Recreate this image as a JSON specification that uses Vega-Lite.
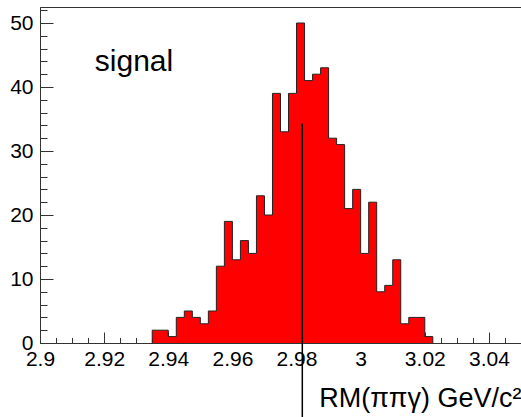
{
  "$schema": "https://vega.github.io/schema/vega-lite/v6.json",
  "width": 481,
  "height": 336,
  "autosize": {"type": "none"},
  "padding": {"left": 40, "top": 7, "right": 0, "bottom": 74},
  "background": "white",
  "config": {
    "view": {"stroke": "#333", "strokeWidth": 1},
    "font": "Liberation Sans",
    "axis": {
      "grid": false,
      "domainColor": "#333",
      "tickColor": "#333",
      "labelColor": "black",
      "labelFont": "Liberation Sans",
      "labelFontSize": 21,
      "labelFlush": false,
      "labelOverlap": false,
      "titleFont": "Liberation Sans",
      "titleFontWeight": "normal",
      "titleColor": "black"
    }
  },
  "datasets": {
    "hist": [
      {"start": 2.935, "count": 0},
      {"start": 2.935, "count": 2},
      {"start": 2.9375, "count": 2},
      {"start": 2.94, "count": 1},
      {"start": 2.9425, "count": 4},
      {"start": 2.945, "count": 5},
      {"start": 2.9475, "count": 4},
      {"start": 2.95, "count": 3},
      {"start": 2.9525, "count": 5},
      {"start": 2.955, "count": 12},
      {"start": 2.9575, "count": 19},
      {"start": 2.96, "count": 13},
      {"start": 2.9625, "count": 16},
      {"start": 2.965, "count": 14},
      {"start": 2.9675, "count": 23},
      {"start": 2.97, "count": 20},
      {"start": 2.9725, "count": 39},
      {"start": 2.975, "count": 33},
      {"start": 2.9775, "count": 39},
      {"start": 2.98, "count": 50},
      {"start": 2.9825, "count": 41},
      {"start": 2.985, "count": 42},
      {"start": 2.9875, "count": 43},
      {"start": 2.99, "count": 32},
      {"start": 2.9925, "count": 31},
      {"start": 2.995, "count": 21},
      {"start": 2.9975, "count": 24},
      {"start": 3.0, "count": 14},
      {"start": 3.0025, "count": 22},
      {"start": 3.005, "count": 8},
      {"start": 3.0075, "count": 9},
      {"start": 3.01, "count": 13},
      {"start": 3.0125, "count": 3},
      {"start": 3.015, "count": 4},
      {"start": 3.0175, "count": 4},
      {"start": 3.02, "count": 1},
      {"start": 3.0225, "count": 0}
    ],
    "marker": [{"x": 2.9818, "y": 34.3, "y2": -12}],
    "note": [{"x": 2.9171, "y": 42.5, "label": "signal"}]
  },
  "layer": [
    {
      "data": {"name": "hist"},
      "mark": {"type": "area", "interpolate": "step-after", "color": "#ff0000", "opacity": 1, "fillOpacity": 1, "line": {"color": "#222", "strokeWidth": 1}},
      "encoding": {
        "x": {
          "field": "start", "type": "quantitative",
          "scale": {"domain": [2.9, 3.05], "nice": false, "zero": false},
          "axis": {
            "values": [2.9, 2.905, 2.91, 2.915, 2.92, 2.925, 2.93, 2.935, 2.94, 2.945, 2.95, 2.955, 2.96, 2.965, 2.97, 2.975, 2.98, 2.985, 2.99, 2.995, 3, 3.005, 3.01, 3.015, 3.02, 3.025, 3.03, 3.035, 3.04, 3.045, 3.05],
            "tickCount": 500,
            "labelExpr": "abs(datum.value*50 - round(datum.value*50)) < 1e-6 ? '' + datum.value : ''",
            "tickSize": {"condition": {"test": "abs(datum.value*50 - round(datum.value*50)) < 1e-6", "value": -11}, "value": -5.5},
            "labelPadding": 16,
            "labelOverlap": false,
            "title": "RM(ππγ) GeV/c²",
            "titleFontSize": 27,
            "titleAnchor": "end",
            "titleAlign": "right",
            "titleBaseline": "alphabetic",
            "titleX": 481,
            "titleY": 63
          }
        },
        "y": {
          "field": "count", "type": "quantitative",
          "scale": {"domain": [0, 52.5], "nice": false},
          "axis": {
            "values": [0, 2, 4, 6, 8, 10, 12, 14, 16, 18, 20, 22, 24, 26, 28, 30, 32, 34, 36, 38, 40, 42, 44, 46, 48, 50, 52],
            "tickCount": 500,
            "labelExpr": "datum.value % 10 === 0 ? '' + datum.value : ''",
            "tickSize": {"condition": {"test": "datum.value % 10 === 0", "value": -13}, "value": -7},
            "labelPadding": 20,
            "labelOverlap": false,
            "title": null
          }
        }
      }
    },
    {
      "data": {"name": "marker"},
      "mark": {"type": "rule", "color": "black", "strokeWidth": 1.5, "clip": false},
      "encoding": {
        "x": {"field": "x", "type": "quantitative"},
        "y": {"field": "y", "type": "quantitative"},
        "y2": {"field": "y2"}
      }
    },
    {
      "data": {"name": "note"},
      "mark": {"type": "text", "align": "left", "baseline": "alphabetic", "fontSize": 30, "font": "Liberation Sans", "color": "black"},
      "encoding": {
        "x": {"field": "x", "type": "quantitative"},
        "y": {"field": "y", "type": "quantitative"},
        "text": {"field": "label"}
      }
    }
  ]
}
